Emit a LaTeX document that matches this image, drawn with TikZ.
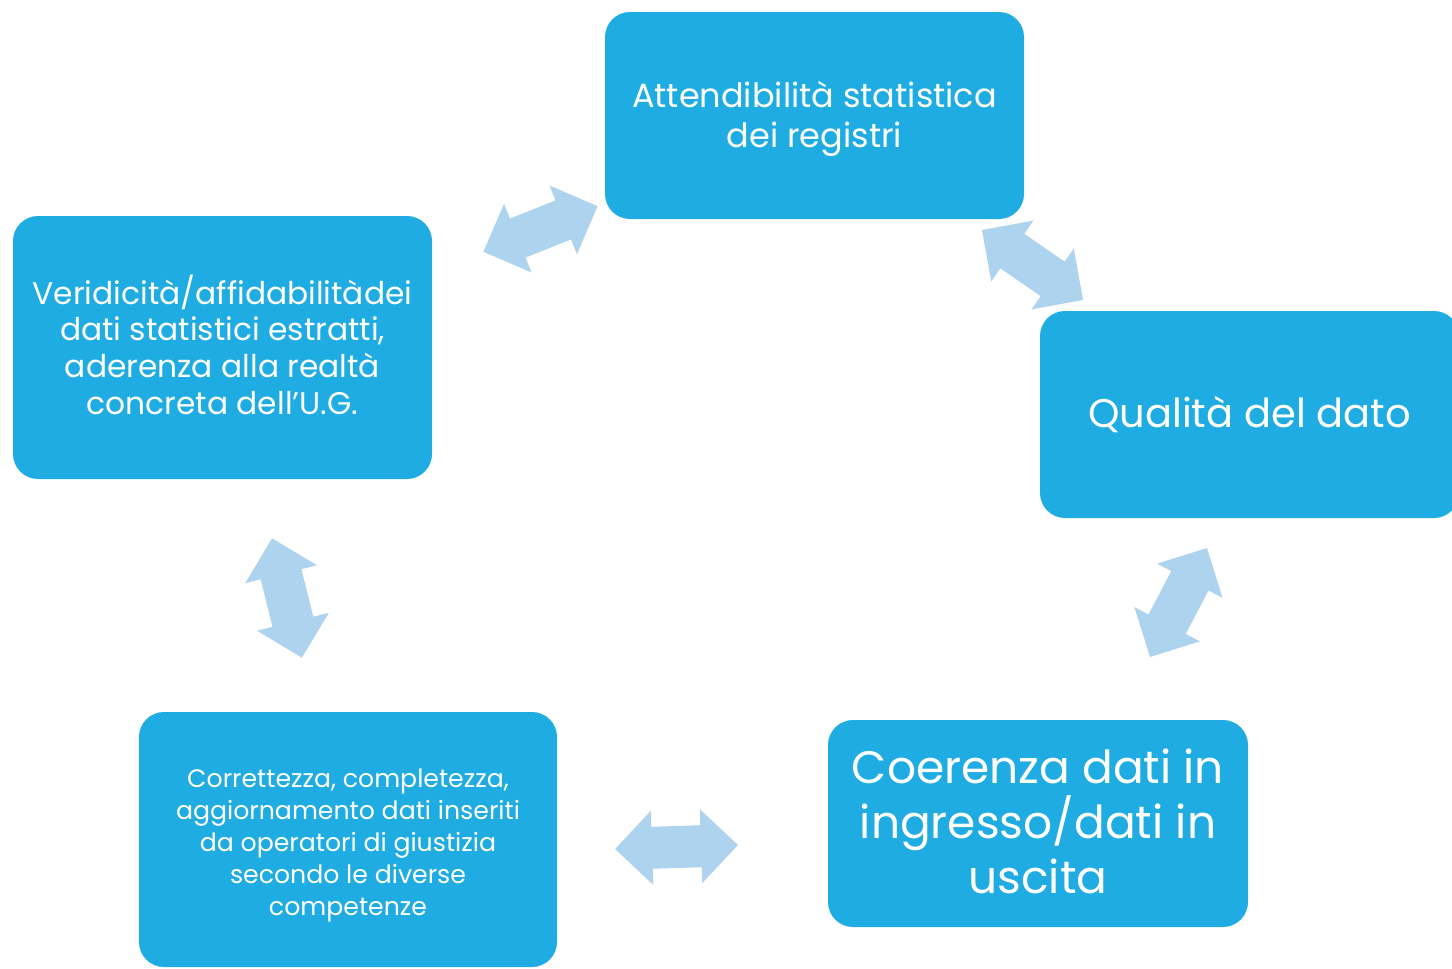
\documentclass[tikz,border=0pt]{standalone}
\usepackage{fontspec}
\setmainfont{Poppins}
\definecolor{boxblue}{RGB}{31,172,226}
\definecolor{arrowblue}{RGB}{173,211,239}
\tikzset{
  blk/.style={fill=boxblue, rounded corners=25pt, inner sep=0pt},
  lbl/.style={text=white, align=center, inner sep=0pt},
  dblarrow/.style={fill=arrowblue, draw=none}
}
\newcommand{\dblarr}[3]{% name, center, canvas angle
  \coordinate (#1) at #2;
  \fill[dblarrow, shift={(#1)}, rotate=#3]
    (-61.5,0) -- (-24.5,37) -- (-24.5,21) -- (24.5,21) -- (24.5,37) -- (61.5,0)
    -- (24.5,-37) -- (24.5,-21) -- (-24.5,-21) -- (-24.5,-37) -- cycle;
}
\begin{document}
\begin{tikzpicture}[x=1pt,y=-1pt]
\useasboundingbox (0,0) rectangle (1452,969);
\clip (0,0) rectangle (1452,969);
\node[blk, minimum width=419pt, minimum height=207pt] (top) at (814.5,115.5) {};
\node[lbl, font=\fontsize{33.5}{40}\selectfont, yshift=-3pt] (top-t) at (top.center)
  {Attendibilità statistica\\dei registri};
\node[blk, minimum width=419pt, minimum height=207pt] (right) at (1249.5,414.5) {};
\node[lbl, font=\fontsize{40}{46}\selectfont] (right-t) at (right.center) {Qualità del dato};
\node[blk, minimum width=420pt, minimum height=207pt] (botright) at (1038,823.5) {};
\node[lbl, font=\fontsize{45.5}{55}\selectfont, yshift=2pt] (botright-t) at (botright.center)
  {Coerenza dati in\\ingresso/dati in\\uscita};
\node[blk, minimum width=418pt, minimum height=255pt] (botleft) at (348,839.5) {};
\node[lbl, font=\fontsize{25.2}{32}\selectfont, yshift=-6pt] (botleft-t) at (botleft.center)
  {Correttezza, completezza,\\aggiornamento dati inseriti\\da operatori di giustizia\\secondo le diverse\\competenze};
\node[blk, minimum width=419pt, minimum height=263pt] (left) at (222.5,347.5) {};
\node[lbl, font=\fontsize{31.3}{36.7}\selectfont, yshift=3pt] (left-t) at (left.center)
  {Veridicità/affidabilitàdei\\dati statistici estratti,\\aderenza alla realtà\\concreta dell’U.G.};
\dblarr{a1}{(540.5,229)}{21.8}
\dblarr{a2}{(1032.5,265)}{-34.7}
\dblarr{a3}{(1178.5,602.5)}{62.4}
\dblarr{a4}{(676.5,847)}{1.9}
\dblarr{a5}{(287,598)}{-76}
\end{tikzpicture}
\end{document}
